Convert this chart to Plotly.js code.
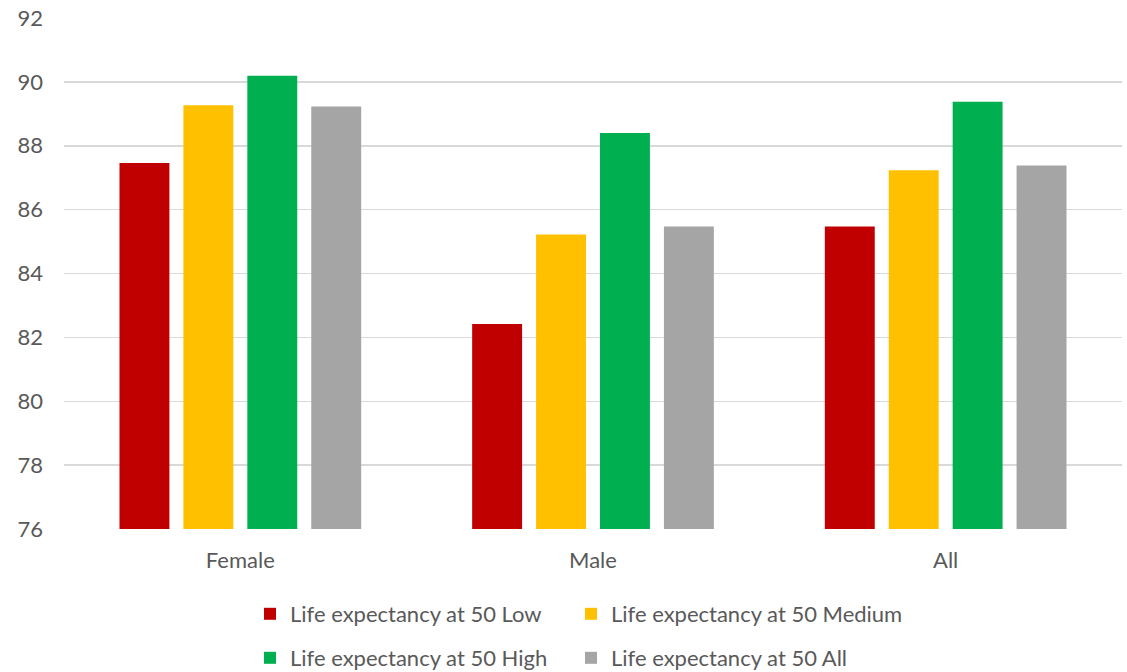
<!DOCTYPE html>
<html>
<head>
<meta charset="utf-8">
<script src="https://cdn.plot.ly/plotly-3.0.1.min.js"></script>
<style>
  html, body { margin: 0; padding: 0; background: #ffffff; }
  #chart { width: 1127px; height: 672px; }
</style>
</head>
<body>
<div id="chart"></div>
<script>
// Life expectancy at age 50, by sex and group
const categories = ['Female', 'Male', 'All'];
const seriesNames = [
  'Life expectancy at 50 Low',
  'Life expectancy at 50 Medium',
  'Life expectancy at 50 High',
  'Life expectancy at 50 All'
];
const lowValues    = [87.46, 82.42, 85.47];
const mediumValues = [89.27, 85.22, 87.23];
const highValues   = [90.19, 88.40, 89.38];
const allValues    = [89.23, 85.47, 87.38];
const seriesColors = ['#C00000', '#FFC000', '#00B050', '#A5A5A5'];
const yTicks = [76, 78, 80, 82, 84, 86, 88, 90, 92];

const seriesValues = [lowValues, mediumValues, highValues, allValues];
// one legend box per entry so the 2x2 grid can be placed precisely
const legendIds = ['legend', 'legend2', 'legend3', 'legend4'];
const legendCol = [0, 1, 0, 1];
const legendRow = [0, 0, 1, 1];
const colLeft = [250, 571];   // px from the left edge of the page
const rowMid = [614, 658];    // px from the top of the page

const textColor = '#595959';
const fontFamily = 'Lato, "Open Sans", sans-serif';
const W = 1127, H = 672;

const traces = seriesNames.map((name, i) => ({
  type: 'bar',
  name: name,
  x: categories,
  y: seriesValues[i],
  marker: { color: seriesColors[i], line: { width: 0 } },
  legend: legendIds[i],
  hoverinfo: 'x+y+name'
}));

const layout = {
  width: W,
  height: H,
  paper_bgcolor: '#ffffff',
  plot_bgcolor: '#ffffff',
  margin: { l: 64, r: 5, t: 18, b: 143 },
  barmode: 'group',
  bargap: 0.275,
  bargroupgap: 0.219,
  showlegend: true,
  font: { family: fontFamily, size: 22, color: textColor },
  xaxis: {
    type: 'category',
    showgrid: false,
    zeroline: false,
    showline: false,
    ticks: '',
    ticklabelstandoff: 16,
    tickfont: { family: fontFamily, size: 22, color: textColor }
  },
  yaxis: {
    range: [76, 92],
    tickvals: yTicks,
    ticktext: yTicks.map(String),
    showgrid: true,
    gridcolor: '#D9D9D9',
    gridwidth: 1.5,
    zeroline: false,
    showline: false,
    ticks: '',
    ticklabelstandoff: 20,
    tickfont: { family: fontFamily, size: 22, color: textColor }
  }
};

legendIds.forEach((id, i) => {
  layout[id] = {
    orientation: 'h',
    xref: 'container',
    yref: 'container',
    xanchor: 'left',
    yanchor: 'middle',
    x: colLeft[legendCol[i]] / W,
    y: 1 - rowMid[legendRow[i]] / H,
    font: { family: fontFamily, size: 22, color: textColor },
    bgcolor: 'rgba(0,0,0,0)',
    borderwidth: 0
  };
});

Plotly.newPlot('chart', traces, layout, { displayModeBar: false, staticPlot: true });
</script>
</body>
</html>
